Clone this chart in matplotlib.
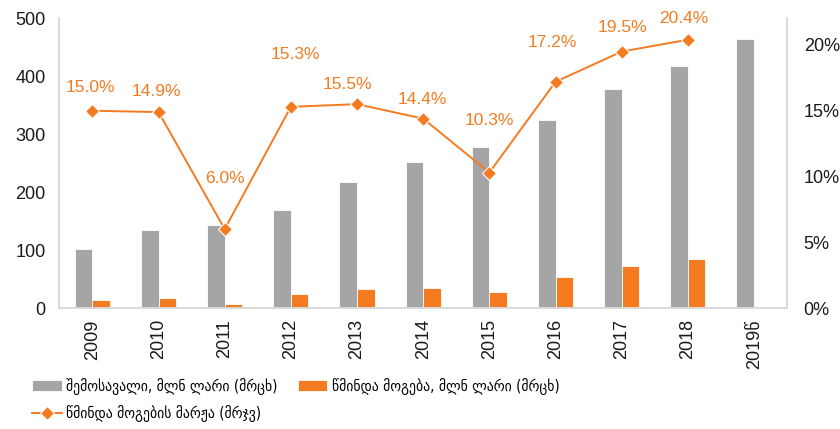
import numpy as np
import matplotlib
matplotlib.use('Agg')
import matplotlib.pyplot as plt
from matplotlib.ticker import FuncFormatter
from matplotlib.font_manager import FontProperties

# ── data ────────────────────────────────────────────────────────────────────
years   = ['2009', '2010', '2011', '2012', '2013', '2014',
           '2015', '2016', '2017', '2018', '2019წ']
revenue = [101, 134, 143, 169, 217, 252, 278, 325, 378, 418, 464]
profit  = [13, 18, 7, 24, 32, 35, 27, 54, 72, 84, 0]
margin  = [15.0, 14.9, 6.0, 15.3, 15.5, 14.4, 10.3, 17.2, 19.5, 20.4]
# label offsets (px) above each margin point
lab_dx  = [-2, -2, 0, 5, -10, -1, 0, -3, 1, -4]
lab_dy  = [23, 21, 51, 52, 20, 19, 52, 39, 24, 21]

lab_rev  = 'შემოსავალი, მლნ ლარი (მრცხ)'
lab_prof = 'წმინდა მოგება, მლნ ლარი (მრცხ)'
lab_marg = 'წმინდა მოგების მარჟა (მრჯვ)'

GRAY   = '#A5A5A5'
ORANGE = '#F47B20'
SPINE  = '#D9D9D9'
TXT    = '#1A1A1A'

plt.rcParams['font.family'] = ['Liberation Sans', 'DejaVu Sans']

fig = plt.figure(figsize=(8.4, 4.29), dpi=100)
ax = fig.add_axes([0.0706, 0.282, 0.8664, 0.676])
ax2 = ax.twinx()

x = np.arange(len(years))
w = 0.265
b1 = ax.bar(x - w / 2, revenue, w, color=GRAY, edgecolor='white', linewidth=0.6, zorder=2)
b2 = ax.bar(x[:len(profit) - 1] + w / 2, profit[:-1], w, color=ORANGE,
            edgecolor='white', linewidth=0.6, zorder=2)

ax.set_xlim(-0.5, len(years) - 0.5)
ax.set_ylim(0, 500)
ax.set_yticks(range(0, 501, 100))
ax.set_xticks(x)
ax.set_xticklabels(years, rotation=90, fontsize=12.5, color=TXT)
ax.tick_params(axis='both', length=0, colors=TXT, labelsize=13)
ax.tick_params(axis='x', pad=8)
ax.tick_params(axis='y', pad=10)

ln, = ax2.plot(x[:len(margin)], np.array(margin) / 100, color=ORANGE, lw=1.4,
               marker='D', ms=7, mfc=ORANGE, mec='white', mew=0.8, zorder=3)
ax2.set_ylim(0, 0.2205)
ax2.set_yticks([0, 0.05, 0.10, 0.15, 0.20])
ax2.yaxis.set_major_formatter(FuncFormatter(lambda v, p: f'{v * 100:.0f}%'))
ax2.tick_params(axis='y', length=0, colors=TXT, labelsize=13, pad=12)

for i, m in enumerate(margin):
    ax2.annotate(f'{m:.1f}%', (x[i], m / 100), xytext=(lab_dx[i], lab_dy[i]),
                 textcoords='offset pixels', ha='center', va='center',
                 color=ORANGE, fontsize=12.5)

for a in (ax, ax2):
    a.spines['top'].set_visible(False)
    for s in ('left', 'bottom', 'right'):
        a.spines[s].set_color(SPINE)
        a.spines[s].set_linewidth(1.2)
ax.set_zorder(ax2.get_zorder() - 1)
ax2.patch.set_visible(False)

leg_font = FontProperties(family=['DejaVu Sans'], stretch='condensed', size=11)
fig.legend([b1, ln, b2], [lab_rev, lab_marg, lab_prof], ncol=2,
           loc='upper left', bbox_to_anchor=(0.038, 0.12), frameon=False,
           prop=leg_font, handlelength=1.95, handleheight=0.7,
           columnspacing=1.3, labelspacing=0.7, handletextpad=0.3,
           borderaxespad=0, borderpad=0)

fig.savefig('out.png', dpi=100)
